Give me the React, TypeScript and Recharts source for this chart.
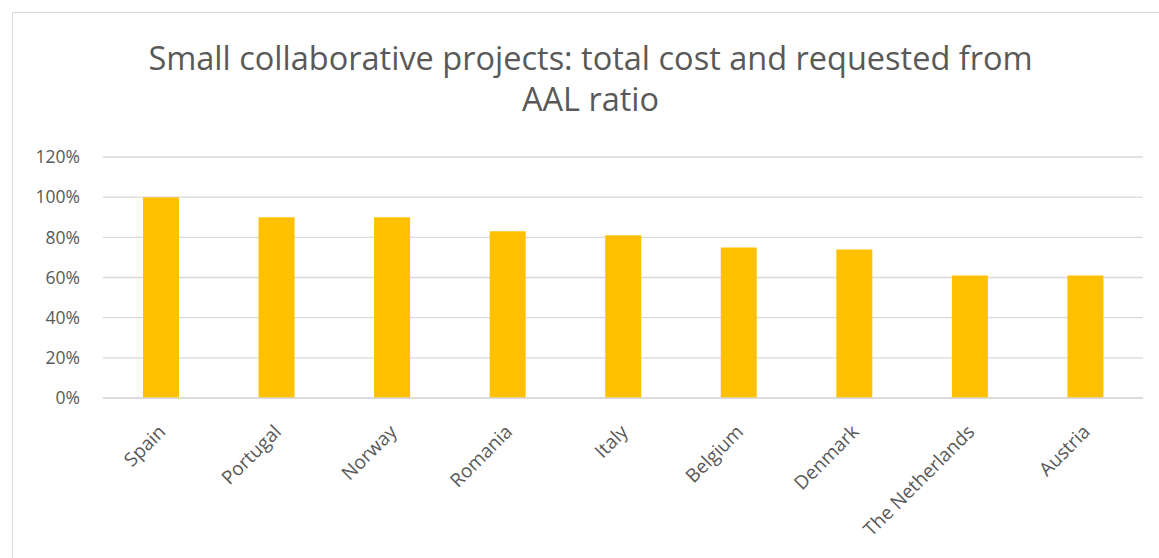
import React from 'react';
import { BarChart, Bar, XAxis, YAxis, CartesianGrid } from 'recharts';

const countries = ['Spain', 'Portugal', 'Norway', 'Romania', 'Italy', 'Belgium', 'Denmark', 'The Netherlands', 'Austria'];
const ratios = [1.0, 0.9, 0.9, 0.83, 0.81, 0.75, 0.74, 0.61, 0.61];
const yTicks = [0, 0.2, 0.4, 0.6, 0.8, 1.0, 1.2];
const titleLines = ['Small collaborative projects: total cost and requested from', 'AAL ratio'];

const data = countries.map((country, i) => ({ country, ratio: ratios[i] }));

const FONT = '"Open Sans", sans-serif';
const TEXT = '#595959';
const GRID = '#d9d9d9';

const CountryTick = (props: any) => {
  const { x, y, payload } = props;
  const ax = x + 6;
  const ay = y + 27;
  return (
    <text
      x={ax}
      y={ay}
      transform={`rotate(-45, ${ax}, ${ay})`}
      textAnchor="end"
      fill={TEXT}
      fontSize={19}
      fontFamily={FONT}
    >
      {payload.value}
    </text>
  );
};

const titleStyle: React.CSSProperties = {
  position: 'absolute',
  left: 0,
  width: 1181,
  textAlign: 'center',
  fontFamily: FONT,
  fontSize: 32.5,
  lineHeight: '40px',
  height: 40,
  color: TEXT,
  whiteSpace: 'nowrap',
};

export default function App() {
  return (
    <div style={{ position: 'absolute', left: 0, top: 0, width: 1159, height: 558, background: '#fff', overflow: 'hidden' }}>
      <div
        style={{
          position: 'absolute',
          left: 12,
          top: 12,
          width: 1160,
          height: 560,
          border: `1px solid ${GRID}`,
        }}
      />
      <div style={{ ...titleStyle, top: 38 }}>{titleLines[0]}</div>
      <div style={{ ...titleStyle, top: 79 }}>{titleLines[1]}</div>
      <div style={{ position: 'absolute', left: 0, top: 0 }}>
        <BarChart width={1159} height={558} data={data} margin={{ top: 157, right: 16, left: 10, bottom: 0 }}>
          <CartesianGrid vertical={false} stroke={GRID} strokeWidth={1.3} />
          <XAxis
            dataKey="country"
            interval={0}
            height={160}
            axisLine={{ stroke: GRID, strokeWidth: 1.3 }}
            tickLine={false}
            tick={<CountryTick />}
          />
          <YAxis
            width={93}
            domain={[0, 1.2]}
            ticks={yTicks}
            tickFormatter={(v: number) => `${Math.round(v * 100)}%`}
            axisLine={false}
            tickLine={false}
            tickSize={0}
            tickMargin={23}
            tick={{ fill: TEXT, fontSize: 17.5, fontFamily: FONT }}
          />
          <Bar dataKey="ratio" fill="#FFC000" barSize={36} isAnimationActive={false} />
        </BarChart>
      </div>
    </div>
  );
}
